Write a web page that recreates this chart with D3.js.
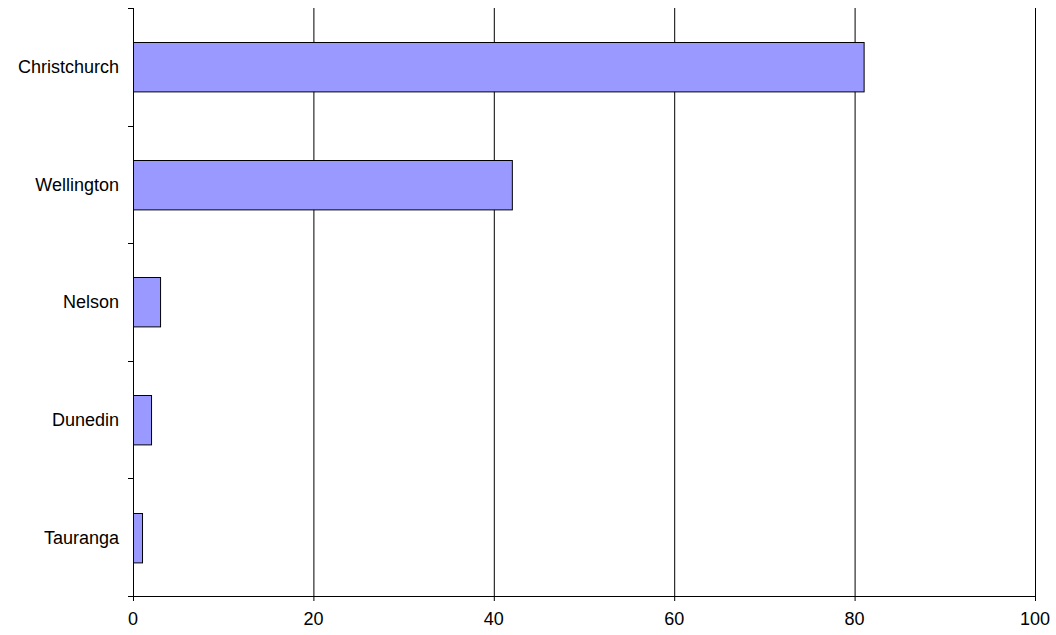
<!DOCTYPE html>
<html>
<head>
<meta charset="utf-8">
<script src="https://cdn.jsdelivr.net/npm/d3@7"></script>
<style>
body{margin:0;background:#fff;}
text{font-family:"Liberation Sans",Arial,sans-serif;font-size:18px;fill:#000;}
</style>
</head>
<body>
<svg id="chart" width="1056" height="635"></svg>
<script>
var cities = ["Christchurch","Wellington","Nelson","Dunedin","Tauranga"];
var counts = [81,42,3,2,1];
var xTicks = [0,20,40,60,80,100];

var pLeft = 133, pRight = 1035, pTop = 8, pBottom = 596;
var svg = d3.select("#chart");

var x = d3.scaleLinear().domain([0,100]).range([pLeft,pRight]);
var y = d3.scaleBand().domain(cities).range([pTop,pBottom]).paddingInner(0.58).paddingOuter(0.29);
var yb = d3.scaleBand().domain(cities).range([pTop,pBottom]);

// gridlines
svg.selectAll(".grid").data(xTicks.slice(1)).enter().append("line")
  .attr("x1",function(d){return x(d)+0.5}).attr("x2",function(d){return x(d)+0.5})
  .attr("y1",pTop).attr("y2",pBottom).attr("stroke","#000").attr("stroke-width",1);

// bars
svg.selectAll(".bar").data(cities).enter().append("rect")
  .attr("x",x(0)+0.5).attr("y",function(d){return Math.round(y(d))+0.5})
  .attr("width",function(d,i){return x(counts[i])-x(0)})
  .attr("height",y.bandwidth())
  .attr("fill","#9999ff").attr("stroke","#000").attr("stroke-width",1);

// y axis
svg.append("line").attr("x1",pLeft+0.5).attr("x2",pLeft+0.5).attr("y1",pTop).attr("y2",pBottom).attr("stroke","#000");
var bTicks = cities.map(function(c){return yb(c)}).concat([pBottom]);
svg.selectAll(".yt").data(bTicks).enter().append("line")
  .attr("x1",pLeft-5).attr("x2",pLeft).attr("y1",function(d){return Math.round(d)+0.5}).attr("y2",function(d){return Math.round(d)+0.5})
  .attr("stroke","#000");
svg.selectAll(".yl").data(cities).enter().append("text")
  .attr("x",pLeft-14).attr("y",function(d){return yb(d)+yb.bandwidth()/2})
  .attr("dy","0.35em").attr("text-anchor","end").text(function(d){return d});

// x axis
svg.append("line").attr("x1",pLeft).attr("x2",pRight+1).attr("y1",pBottom+0.5).attr("y2",pBottom+0.5).attr("stroke","#000");
svg.selectAll(".xt").data(xTicks).enter().append("line")
  .attr("x1",function(d){return x(d)+0.5}).attr("x2",function(d){return x(d)+0.5})
  .attr("y1",pBottom).attr("y2",pBottom+5).attr("stroke","#000");
svg.selectAll(".xl").data(xTicks).enter().append("text")
  .attr("x",function(d){return x(d)}).attr("y",pBottom+29)
  .attr("text-anchor","middle").text(function(d){return d});
</script>
</body>
</html>
